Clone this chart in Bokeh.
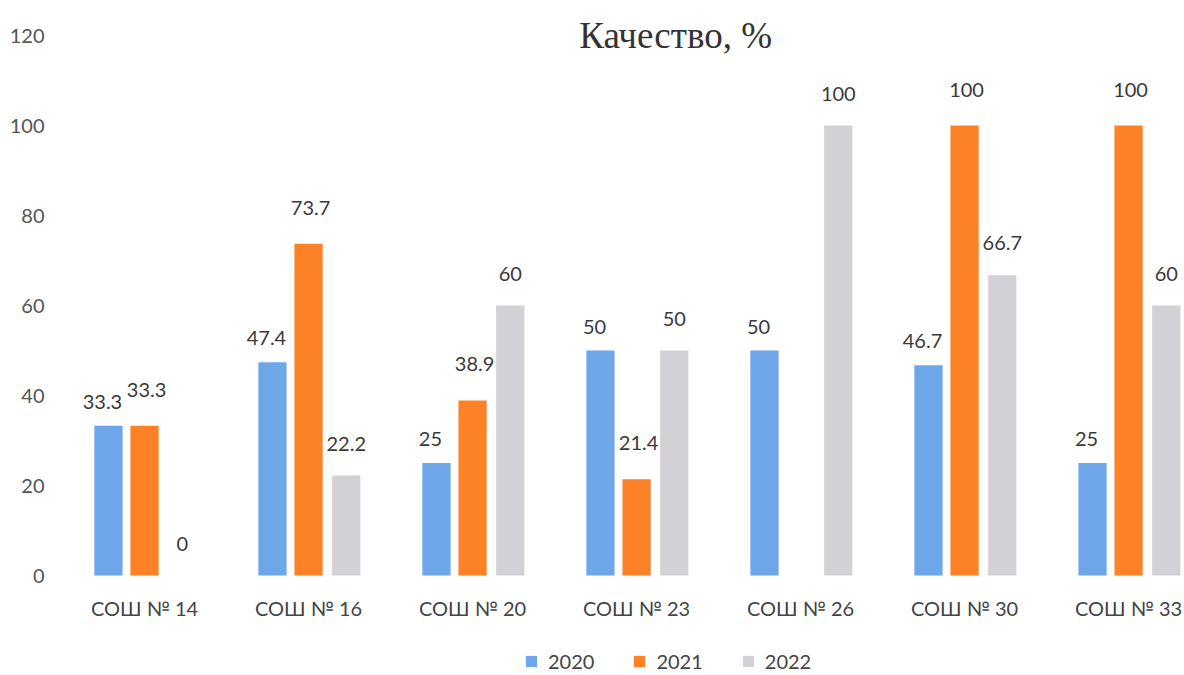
import numpy as np
from bokeh.plotting import figure
from bokeh.models import ColumnDataSource, Legend, LegendItem, Label, FixedTicker, Range1d
from bokeh.transform import dodge
from bokeh.embed import file_html
from bokeh.resources import INLINE

categories = ["СОШ № 14", "СОШ № 16", "СОШ № 20", "СОШ № 23", "СОШ № 26", "СОШ № 30", "СОШ № 33"]
years = ["2020", "2021", "2022"]
v2020 = [33.3, 47.4, 25, 50, 50, 46.7, 25]
v2021 = [33.3, 73.7, 38.9, 21.4, None, 100, 100]
v2022 = [0, 22.2, 60, 50, 100, 66.7, 60]
y_ticks = [0, 20, 40, 60, 80, 100, 120]
title_text = "Качество, %"

colors = ["#6ea6ea", "#fd8126", "#d3d0d6"]
FONT = "Lato"

xs = list(range(len(categories)))

p = figure(frame_width=1130, frame_height=667, output_backend="svg", toolbar_location=None,
           x_range=Range1d(-0.549, 6.341), y_range=Range1d(-22.222, 126),
           min_border_left=54, min_border_right=0, min_border_top=8, min_border_bottom=0)
p.outline_line_color = None
p.grid.grid_line_color = None
p.background_fill_color = "white"
p.border_fill_color = "white"

offsets = [-0.22, 0.0, 0.23]
label_dx = [-6, 2, 0]
label_dy = [-24, -36, -32]
series = [v2020, v2021, v2022]
renderers = []
for yr, vals, off, col, dx, dy in zip(years, series, offsets, colors, label_dx, label_dy):
    tops = [np.nan if v is None else v for v in vals]
    src = ColumnDataSource(dict(x=xs, top=tops))
    r = p.vbar(x=dodge("x", off), top="top", bottom=0, width=0.172, source=src,
               fill_color=col, line_color=None)
    renderers.append((yr, r))
    lx = [x for x, v in zip(xs, vals) if v is not None]
    lv = [v for v in vals if v is not None]
    lt = [("%g" % v) for v in lv]
    lsrc = ColumnDataSource(dict(x=lx, y=lv, t=lt))
    p.text(x=dodge("x", off), y="y", text="t", source=lsrc, text_align="center",
           text_baseline="middle", x_offset=dx, y_offset=dy, text_font_size="20px",
           text_color="#3a3a3a", text_font={"value": FONT})

# category labels under the bars (drawn at the zero baseline)
csrc = ColumnDataSource(dict(x=xs, y=[0] * len(xs), t=categories))
p.text(x="x", y="y", text="t", source=csrc, text_align="center", text_baseline="middle",
       y_offset=32, text_font_size="20px", text_color="#444444", text_font={"value": FONT})

p.xaxis.visible = False

p.yaxis.ticker = FixedTicker(ticks=y_ticks)
p.yaxis.axis_line_color = None
p.yaxis.major_tick_line_color = None
p.yaxis.minor_tick_line_color = None
p.yaxis.major_tick_out = 0
p.yaxis.major_tick_in = 0
p.yaxis.major_label_text_font = FONT
p.yaxis.major_label_text_font_size = "20px"
p.yaxis.major_label_text_color = "#555555"
p.yaxis.major_label_standoff = 10

p.add_layout(Label(x=3.238, y=120, text=title_text, text_font="Liberation Serif",
                   text_font_size="37px", text_color="#333333",
                   text_align="center", text_baseline="middle"))

legend = Legend(items=[LegendItem(label=yr, renderers=[r]) for yr, r in renderers],
                orientation="horizontal", location=(470, 2),
                label_text_font=FONT, label_text_font_size="20px", label_text_color="#444444",
                glyph_width=14, glyph_height=14, spacing=38, label_standoff=10,
                border_line_color=None, background_fill_alpha=0, padding=2, margin=0)
p.add_layout(legend, "center")

open("out.html", "w").write(file_html(p, INLINE))
